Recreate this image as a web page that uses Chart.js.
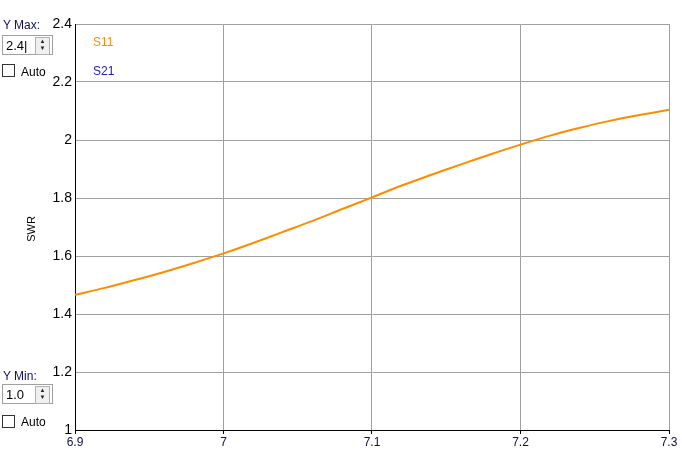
<!DOCTYPE html>
<html>
<head>
<meta charset="utf-8">
<script src="https://cdn.jsdelivr.net/npm/chart.js@4.4.0/dist/chart.umd.min.js"></script>
<style>
  html, body { margin: 0; padding: 0; background: #fff; }
  #wrap { position: relative; width: 682px; height: 454px; font-family: "Liberation Sans", Arial, sans-serif; }
  canvas { position: absolute; left: 0; top: 0; }
  .lbl { position: absolute; font-size: 12px; color: #10105a; }
  .box { position: absolute; width: 49px; height: 18px; border: 1px solid #a0a0a0; background: #fff; }
  .box span { position: absolute; left: 3px; top: 2px; font-size: 13px; color: #000; }
  .spin { position: absolute; right: 2px; top: 1px; width: 13px; height: 16px; border: 1px solid #b0b0b0; background: #f0f0f0; font-size: 6px; line-height: 7px; text-align: center; color: #222; }
  .chk { position: absolute; width: 11px; height: 11px; border: 1px solid #333; background: #fff; }
</style>
</head>
<body>
<div id="wrap">
  <canvas id="chart" width="682" height="454"></canvas>

  <div class="lbl" style="left:3px; top:18px;">Y Max:</div>
  <div class="box" style="left:2px; top:35px;"><span>2.4|</span><div class="spin">&#9650;<br>&#9660;</div></div>
  <div class="chk" style="left:2px; top:64px;"></div>
  <div class="lbl" style="left:21px; top:65px; color:#000;">Auto</div>

  <div class="lbl" style="left:3px; top:369px;">Y Min:</div>
  <div class="box" style="left:2px; top:384px;"><span>1.0</span><div class="spin">&#9650;<br>&#9660;</div></div>
  <div class="chk" style="left:2px; top:415px;"></div>
  <div class="lbl" style="left:21px; top:415px; color:#000;">Auto</div>
</div>

<script>
// Frequency (x) and SWR values
const freqs = [6.90, 6.92, 6.94, 6.96, 6.98, 7.00, 7.02, 7.04, 7.06, 7.08, 7.10,
               7.12, 7.14, 7.16, 7.18, 7.20, 7.22, 7.24, 7.26, 7.28, 7.30];
const s11 = [1.466, 1.490, 1.517, 1.545, 1.576, 1.609, 1.645, 1.683, 1.721, 1.762, 1.802,
             1.843, 1.880, 1.916, 1.951, 1.984, 2.015, 2.042, 2.066, 2.086, 2.104];
const s21 = [];  // shown in the legend only, no data on screen

const seriesNames = ["S11", "S21"];
const seriesColors = ["#ff8c00", "#2020b8"];

const xMin = 6.9, xMax = 7.3, xStep = 0.1;
const yMin = 1.0, yMax = 2.4, yStep = 0.2;
const yTitle = "SWR";

// "7" rather than "7.00", "1.2" rather than "1.20"
const shortNum = (v) => String(Math.round(v * 10) / 10);

// Legend text in the top-left of the plot and the rotated axis title
const labelsPlugin = {
    id: "labels",
    afterDraw(chart) {
        const ctx = chart.ctx;
        const area = chart.chartArea;
        ctx.save();
        ctx.font = '12px "Liberation Sans", Arial, sans-serif';
        ctx.textBaseline = "middle";
        ctx.textAlign = "left";
        chart.data.datasets.forEach((ds, i) => {
            ctx.fillStyle = ds.borderColor;
            ctx.fillText(ds.label, area.left + 18, area.top + 19 + i * 29);
        });
        ctx.translate(32, (area.top + area.bottom) / 2 + 2);
        ctx.rotate(-Math.PI / 2);
        ctx.textAlign = "center";
        ctx.font = '11px "Liberation Sans", Arial, sans-serif';
        ctx.fillStyle = "#000";
        ctx.fillText(yTitle, 0, 0);
        ctx.restore();
    }
};

const ctx = document.getElementById("chart").getContext("2d");

new Chart(ctx, {
    type: "line",
    data: {
        datasets: [
            {
                label: seriesNames[0],
                data: freqs.map((f, i) => ({ x: f, y: s11[i] })),
                borderColor: seriesColors[0],
                borderWidth: 2,
                pointRadius: 0,
                tension: 0.3
            },
            {
                label: seriesNames[1],
                data: s21,
                borderColor: seriesColors[1],
                borderWidth: 2,
                pointRadius: 0
            }
        ]
    },
    options: {
        responsive: false,
        animation: false,
        layout: { padding: { top: 24, right: 13, left: 0, bottom: 0 } },
        plugins: {
            legend: { display: false },
            tooltip: { enabled: false }
        },
        scales: {
            x: {
                type: "linear",
                min: xMin,
                max: xMax,
                afterFit: (scale) => { scale.height = 24; },
                ticks: {
                    stepSize: xStep,
                    callback: shortNum,
                    color: "#101040",
                    padding: 1,
                    maxRotation: 0,
                    font: { family: '"Liberation Sans", Arial, sans-serif', size: 12 }
                },
                grid: { color: "#a0a0a0", tickColor: "#000", tickLength: 4 },
                border: { color: "#000", width: 1 }
            },
            y: {
                min: yMin,
                max: yMax,
                afterFit: (scale) => { scale.width = 75; },
                ticks: {
                    stepSize: yStep,
                    callback: shortNum,
                    color: "#000",
                    padding: 3,
                    font: { family: '"Liberation Sans", Arial, sans-serif', size: 14 }
                },
                grid: { color: "#a0a0a0", drawTicks: false },
                border: { color: "#000", width: 1 }
            }
        }
    },
    plugins: [labelsPlugin]
});
</script>
</body>
</html>
